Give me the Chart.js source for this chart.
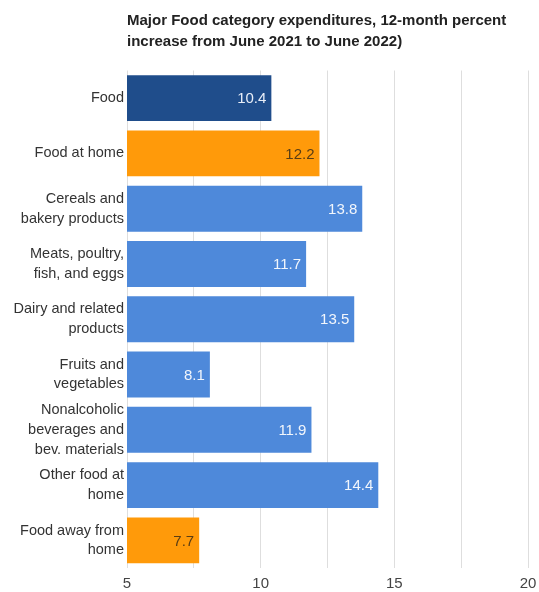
<!DOCTYPE html>
<html>
<head>
<meta charset="utf-8">
<script src="https://cdn.jsdelivr.net/npm/chart.js@4/dist/chart.umd.min.js"></script>
<style>
  html, body { margin: 0; padding: 0; background: #fff; }
  #wrap { width: 539px; height: 592px; }
</style>
</head>
<body>
<div id="wrap"><canvas id="c" width="539" height="592"></canvas></div>
<script>
// Category labels (wrapped over lines)
const categories = [
  ['Food'],
  ['Food at home'],
  ['Cereals and', 'bakery products'],
  ['Meats, poultry,', 'fish, and eggs'],
  ['Dairy and related', 'products'],
  ['Fruits and', 'vegetables'],
  ['Nonalcoholic', 'beverages and', 'bev. materials'],
  ['Other food at', 'home'],
  ['Food away from', 'home']
];
// 12-month percent increase
const increases = [10.4, 12.2, 13.8, 11.7, 13.5, 8.1, 11.9, 14.4, 7.7];
const barColors = ['#1f4d8b', '#ff9a0a', '#4e89da', '#4e89da', '#4e89da', '#4e89da', '#4e89da', '#4e89da', '#ff9a0a'];
const labelColors = ['#e8eef8', '#5a3d14', '#f2f6fc', '#f2f6fc', '#f2f6fc', '#f2f6fc', '#f2f6fc', '#f2f6fc', '#5a3d14'];
const xTickValues = [5, 10, 15, 20];

const FONT = '"Liberation Sans", Arial, sans-serif';

// Writes each value just inside the end of its bar
const valueLabels = {
  id: 'valueLabels',
  afterDatasetsDraw(chart) {
    const ctx = chart.ctx;
    const meta = chart.getDatasetMeta(0);
    ctx.save();
    ctx.font = '15px ' + FONT;
    ctx.textAlign = 'right';
    ctx.textBaseline = 'middle';
    meta.data.forEach((bar, i) => {
      ctx.fillStyle = labelColors[i];
      ctx.fillText(increases[i].toFixed(1), bar.x - 5, bar.y + 1);
    });
    ctx.restore();
  }
};

new Chart(document.getElementById('c'), {
  type: 'bar',
  data: {
    labels: categories,
    datasets: [{
      data: increases,
      backgroundColor: barColors,
      borderWidth: 0,
      categoryPercentage: 0.83,
      barPercentage: 1
    }]
  },
  options: {
    indexAxis: 'y',
    responsive: false,
    animation: false,
    layout: { padding: { top: 0, right: 11, left: 0, bottom: 0 } },
    plugins: {
      legend: { display: false },
      tooltip: { enabled: false },
      title: {
        display: true,
        fullSize: false,
        align: 'start',
        text: ['Major Food category expenditures, 12-month percent', 'increase from June 2021 to June 2022)'],
        color: '#222',
        font: { family: FONT, size: 15, weight: 'bold', lineHeight: 1.35 },
        padding: { top: 11, bottom: 19 }
      }
    },
    scales: {
      x: {
        min: 5,
        max: 20,
        afterFit(scale) {
          scale.height = 24;
          scale.paddingLeft = 0;
          scale.paddingRight = 0;
        },
        afterBuildTicks(scale) {
          const t = [];
          for (let v = 5; v <= 20; v += 2.5) t.push({ value: v });
          scale.ticks = t;
        },
        grid: { color: '#dedede', lineWidth: 1, drawTicks: false },
        border: { display: false },
        ticks: {
          padding: 7,
          color: '#444',
          font: { family: FONT, size: 15 },
          autoSkip: false,
          maxRotation: 0,
          callback: (v) => xTickValues.includes(v) ? String(v) : ''
        }
      },
      y: {
        afterFit(scale) { scale.width = 127; },
        grid: { display: false, drawTicks: false },
        border: { display: false },
        ticks: {
          padding: 3,
          color: '#333',
          font: { family: FONT, size: 14.5, lineHeight: 1.36 },
          autoSkip: false
        }
      }
    }
  },
  plugins: [valueLabels]
});
</script>
</body>
</html>
